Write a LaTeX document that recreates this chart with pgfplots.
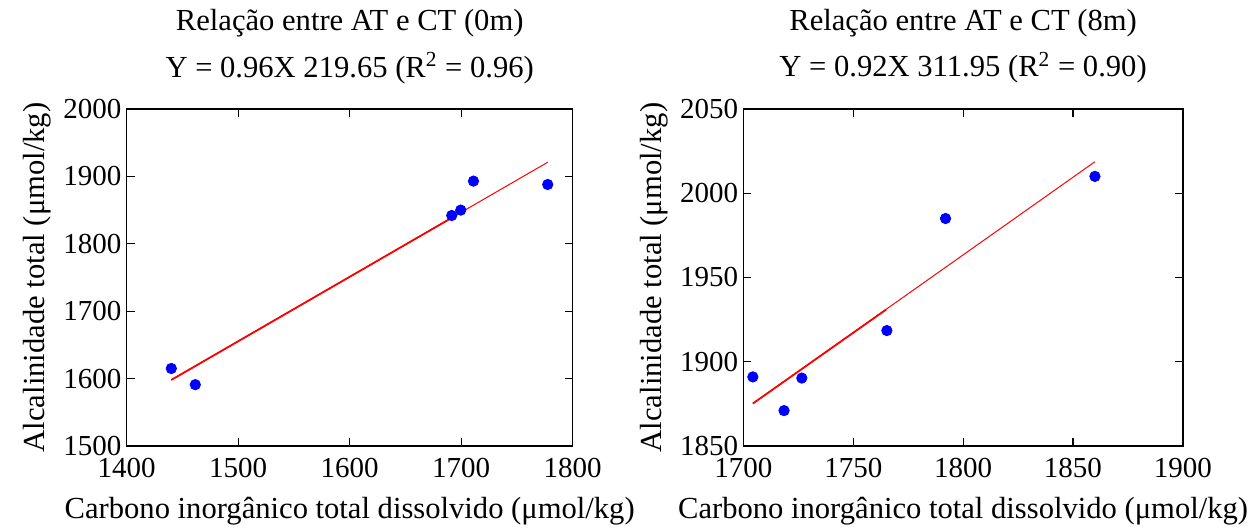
\documentclass[border=0pt]{standalone}
\usepackage{fontspec}
\setmainfont{Liberation Serif}
\usepackage{pgfplots}
\pgfplotsset{compat=1.18}
\definecolor{mblue}{RGB}{0,0,255}
\definecolor{mred}{RGB}{255,0,0}
\newcommand{\lblfont}{\fontsize{15.3}{18}\selectfont}
\pgfplotsset{
  mfig/.style={
    scale only axis, anchor=south west, clip=false,
    font=\fontsize{14.5}{17}\selectfont,
    /pgf/number format/assume math mode=true,
    /pgf/number format/1000 sep={},
    axis line style={line width=0.7pt},
    tick style={black, line width=0.6pt},
    major tick length=4pt, tick align=inside,
    xticklabel style={anchor=base, yshift=-16pt},
    yticklabel style={inner sep=2.5pt},
  },
  pts/.style={only marks, mark=*, mark size=2.6pt, mblue},
  fitline/.style={mred, line width=0.5pt, mark=none},
}
\begin{document}
\begin{tikzpicture}
\path (0,0) rectangle (629pt,264.5pt);
% 0 m
\begin{axis}[mfig, at={(63.35pt,41.5pt)}, width=223pt, height=168.5pt,
  xmin=1400, xmax=1800, ymin=1500, ymax=2000,
  xtick={1400,1500,...,1800}, ytick={1500,1600,...,2000}]
  \addplot[fitline] coordinates {(1440,1598) (1777.6,1921)};
  \addplot[fitline, line width=0.9pt] coordinates {(1440,1598) (1692,1839)};
  \addplot[pts] coordinates {
    (1440,1615) (1461.5,1591) (1691.5,1842) (1699.6,1850) (1711,1893) (1777.6,1888)};
  \node[anchor=base, font=\lblfont] at (rel axis cs:0.5,1) [yshift=39pt] {Relação entre AT e CT (0m)};
  \node[anchor=base, font=\lblfont] at (rel axis cs:0.5,1) [yshift=16pt] {Y = 0.96X 219.65 (R\textsuperscript{2} = 0.96)};
  \node[anchor=base, font=\lblfont] at (rel axis cs:0.5,0) [yshift=-36.5pt] {Carbono inorgânico total dissolvido (μmol/kg)};
  \node[anchor=base, rotate=90, font=\lblfont] at (rel axis cs:0,0.5) [yshift=41.3pt] {Alcalinidade total (μmol/kg)};
\end{axis}
% 8 m
\begin{axis}[mfig, at={(371.7pt,41.5pt)}, width=219.7pt, height=168.5pt,
  xmin=1700, xmax=1900, ymin=1850, ymax=2050,
  xtick={1700,1750,...,1900}, ytick={1850,1900,...,2050}]
  \addplot[fitline] coordinates {(1704.3,1875.2) (1860,2018.7)};
  \addplot[fitline, line width=0.9pt] coordinates {(1704.3,1875.2) (1765,1931)};
  \addplot[pts] coordinates {
    (1704.3,1891) (1718.5,1871) (1726.6,1890.3) (1765.3,1918.5) (1792,1985) (1860,2010)};
  \node[anchor=base, font=\lblfont] at (rel axis cs:0.5,1) [yshift=39pt] {Relação entre AT e CT (8m)};
  \node[anchor=base, font=\lblfont] at (rel axis cs:0.5,1) [yshift=16pt] {Y = 0.92X 311.95 (R\textsuperscript{2} = 0.90)};
  \node[anchor=base, font=\lblfont] at (rel axis cs:0.5,0) [yshift=-36.5pt] {Carbono inorgânico total dissolvido (μmol/kg)};
  \node[anchor=base, rotate=90, font=\lblfont] at (rel axis cs:0,0.5) [yshift=41pt] {Alcalinidade total (μmol/kg)};
\end{axis}
\pgfresetboundingbox
\path[use as bounding box] (0,0) rectangle (629pt,264.5pt);
\end{tikzpicture}
\end{document}
